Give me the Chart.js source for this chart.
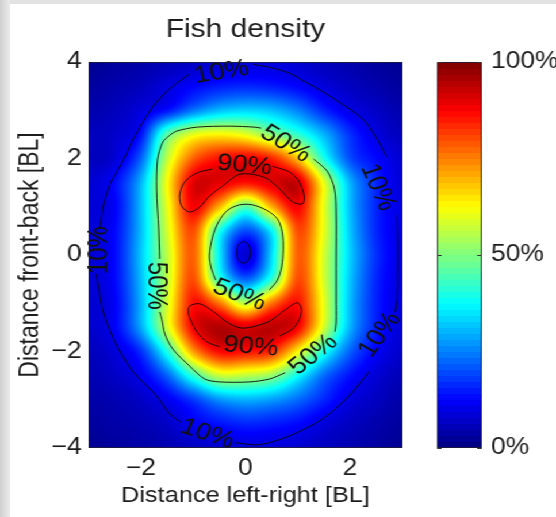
<!DOCTYPE html>
<html>
<head>
<meta charset="utf-8">
<script src="https://cdn.jsdelivr.net/npm/chart.js@4.4.1/dist/chart.umd.min.js"></script>
<style>
  html, body { margin: 0; padding: 0; background: #ffffff; }
  #outer { position: relative; width: 556px; height: 517px; overflow: hidden; background: #ffffff; }
  #edgeT { position: absolute; left: 0; top: 0; width: 556px; height: 4px; background: #e2e2e2; }
  #edgeL { position: absolute; left: 0; top: 0; width: 10px; height: 517px; background: linear-gradient(to right, #cfcfcf, #ececec); }
  #inner { position: absolute; left: 0; top: 0; width: 484px; height: 517px; transform: scaleX(1.15); transform-origin: 0 0; }
  #main { position: absolute; left: 0; top: 0; }
  #cbar { position: absolute; left: 370px; top: 0; }
</style>
</head>
<body>
<div id="outer">
  <div id="edgeT"></div>
  <div id="edgeL"></div>
  <div id="inner">
    <canvas id="main" width="484" height="517"></canvas>
    <canvas id="cbar" width="114" height="517"></canvas>
  </div>
</div>
<script>
// ---------------- data ----------------
const X_GRID = [-3, -2.5, -2, -1.5, -1, -0.5, 0, 0.5, 1, 1.5, 2, 2.5, 3];
const Y_GRID = [4, 3.5, 3, 2.5, 2, 1.5, 1, 0.5, 0, -0.5, -1, -1.5, -2, -2.5, -3, -3.5, -4];
// relative fish density (0..1), one row per Y_GRID value, one column per X_GRID value
const density = [
  [0.02, 0.03, 0.04, 0.055, 0.07, 0.085, 0.09, 0.093, 0.08, 0.06, 0.045, 0.03, 0.02],
  [0.03, 0.045, 0.06, 0.092, 0.125, 0.15, 0.16, 0.15, 0.125, 0.09, 0.065, 0.045, 0.03],
  [0.045, 0.06, 0.09, 0.14, 0.24, 0.31, 0.33, 0.31, 0.25, 0.16, 0.1, 0.07, 0.045],
  [0.06, 0.075, 0.14, 0.46, 0.6, 0.63, 0.6, 0.51, 0.42, 0.3, 0.17, 0.095, 0.06],
  [0.06, 0.085, 0.22, 0.56, 0.78, 0.86, 0.88, 0.84, 0.68, 0.4, 0.2, 0.13, 0.08],
  [0.08, 0.13, 0.3, 0.62, 0.9, 0.9, 0.86, 0.9, 0.92, 0.6, 0.3, 0.16, 0.085],
  [0.085, 0.12, 0.31, 0.6, 0.88, 0.7, 0.46, 0.7, 0.88, 0.6, 0.31, 0.16, 0.095],
  [0.085, 0.13, 0.31, 0.58, 0.8, 0.4, 0.2, 0.37, 0.8, 0.6, 0.32, 0.16, 0.1],
  [0.08, 0.13, 0.32, 0.56, 0.78, 0.36, 0.08, 0.34, 0.78, 0.58, 0.33, 0.17, 0.1],
  [0.08, 0.13, 0.31, 0.56, 0.8, 0.42, 0.22, 0.42, 0.8, 0.58, 0.32, 0.16, 0.095],
  [0.08, 0.12, 0.3, 0.58, 0.86, 0.76, 0.56, 0.76, 0.86, 0.6, 0.31, 0.155, 0.09],
  [0.075, 0.12, 0.29, 0.58, 0.88, 0.95, 0.91, 0.94, 0.88, 0.58, 0.3, 0.15, 0.085],
  [0.06, 0.09, 0.17, 0.4, 0.72, 0.87, 0.86, 0.83, 0.63, 0.4, 0.22, 0.12, 0.075],
  [0.05, 0.07, 0.11, 0.22, 0.42, 0.57, 0.56, 0.52, 0.38, 0.23, 0.14, 0.085, 0.055],
  [0.04, 0.05, 0.07, 0.11, 0.18, 0.27, 0.3, 0.28, 0.23, 0.16, 0.095, 0.065, 0.04],
  [0.03, 0.04, 0.05, 0.07, 0.115, 0.14, 0.16, 0.15, 0.13, 0.09, 0.065, 0.045, 0.03],
  [0.02, 0.03, 0.04, 0.05, 0.065, 0.08, 0.09, 0.09, 0.08, 0.065, 0.05, 0.035, 0.02]
];

const X_TICKS = [-2, 0, 2];
const Y_TICKS = [-4, -2, 0, 2, 4];
const COLORBAR_TICKS = [0, 50, 100];

// contour lines, [x, y] in axis units (segments broken at the labels)
const contour10 = [
  [[0.15, 3.95], [0.46, 3.89], [0.84, 3.77], [1.16, 3.58], [1.50, 3.37], [1.79, 3.17], [2.08, 2.96], [2.30, 2.75], [2.55, 2.34], [2.70, 2.03]],
  [[2.90, 0.83], [2.91, 0.33], [2.91, -0.29], [2.90, -0.91], [2.86, -1.18]],
  [[2.36, -2.42], [1.98, -2.92], [1.47, -3.40], [0.84, -3.75], [0.27, -3.93], [-0.21, -3.89]],
  [[-1.22, -3.48], [-1.45, -3.29], [-1.70, -2.92], [-2.15, -2.42], [-2.46, -1.88], [-2.72, -1.18], [-2.82, -0.60], [-2.86, -0.39]],
  [[-2.78, 0.58], [-2.72, 1.01], [-2.59, 1.47], [-2.46, 1.72], [-2.30, 2.05], [-2.15, 2.40], [-1.77, 3.08], [-1.39, 3.50], [-1.07, 3.75]],
  [[-0.04, 0.29], [0.06, 0.21], [0.09, 0.06], [0.06, -0.10], [-0.04, -0.17], [-0.14, -0.10], [-0.17, 0.06], [-0.14, 0.21], [-0.04, 0.29]]
];
const contour50 = [
  [[-1.64, -0.08], [-1.66, 0.54], [-1.70, 1.37], [-1.68, 1.99], [-1.58, 2.34], [-1.45, 2.48], [-1.31, 2.57], [-0.93, 2.65], [-0.30, 2.67], [0.17, 2.65], [0.30, 2.63]],
  [[1.30, 1.99], [1.56, 1.74], [1.70, 1.37], [1.73, 0.85], [1.73, -0.08], [1.73, -0.91], [1.73, -1.39], [1.71, -1.59]],
  [[0.76, -2.44], [0.46, -2.57], [0.08, -2.63], [-0.50, -2.63], [-0.78, -2.57], [-1.07, -2.30], [-1.39, -1.95], [-1.54, -1.64], [-1.60, -1.33], [-1.64, -1.18]],
  [[0.46, -0.72], [0.61, -0.52], [0.69, -0.25], [0.72, 0.12], [0.70, 0.48], [0.61, 0.75], [0.40, 0.93], [0.13, 1.04], [-0.11, 1.04], [-0.34, 0.93], [-0.51, 0.70], [-0.63, 0.37], [-0.69, -0.02], [-0.65, -0.29], [-0.57, -0.52]]
];
const contour90 = [
  [[0.51, 1.84], [0.84, 1.72], [1.03, 1.51], [1.12, 1.22], [1.09, 1.06], [0.90, 1.10], [0.65, 1.37], [0.40, 1.59], [0.08, 1.68], [-0.15, 1.66], [-0.44, 1.43], [-0.69, 1.22], [-0.88, 0.99], [-1.07, 0.89], [-1.22, 1.01], [-1.26, 1.22], [-1.20, 1.45], [-1.07, 1.61], [-0.88, 1.72], [-0.63, 1.78]],
  [[0.65, -1.68], [0.90, -1.53], [1.03, -1.33], [1.07, -1.12], [0.99, -0.99], [0.78, -1.12], [0.46, -1.37], [0.13, -1.49], [-0.11, -1.51], [-0.36, -1.39], [-0.63, -1.16], [-0.88, -1.01], [-1.07, -1.06], [-1.09, -1.22], [-1.03, -1.39], [-0.93, -1.59], [-0.74, -1.80], [-0.50, -1.90]]
];
// contour labels: text, x, y (axis units), reading angle in degrees
const contourLabelText = ['10%', '10%', '10%', '10%', '10%', '50%', '50%', '50%', '50%', '90%', '90%'];
const contourLabelX = [-0.46, 2.55, -2.82, 2.55, -0.72, 0.78, -1.68, -0.11, 1.28, -0.02, 0.10];
const contourLabelY = [3.81, 1.41, 0.10, -1.64, -3.69, 2.32, -0.64, -0.81, -2.05, 1.88, -1.88];
const contourLabelAngle = [-9, 66, -90, -53, 18, 31, 90, 20, -38, 5, 5];

// ---------------- rendering ----------------
const STRETCH = 1.15;
const FONT = '"Liberation Sans", Arial, Helvetica, sans-serif';
const TXT = '#1c1c1c';

function clamp01(v) { return v < 0 ? 0 : (v > 1 ? 1 : v); }
function jet(t) {
  t = clamp01(t);
  return [
    Math.round(255 * clamp01(1.5 - Math.abs(4 * t - 3))),
    Math.round(255 * clamp01(1.5 - Math.abs(4 * t - 2))),
    Math.round(255 * clamp01(1.5 - Math.abs(4 * t - 1)))
  ];
}
function cubic(p0, p1, p2, p3, t) {
  return p1 + 0.5 * t * (p2 - p0 + t * (2 * p0 - 5 * p1 + 4 * p2 - p3 + t * (3 * (p1 - p2) + p3 - p0)));
}
function cell(r, c) {
  r = Math.max(0, Math.min(density.length - 1, r));
  c = Math.max(0, Math.min(density[0].length - 1, c));
  return density[r][c];
}
// smooth shading between the grid values (like MATLAB "shading interp")
function shade(fx, fy) {
  const ix = Math.floor(fx), iy = Math.floor(fy);
  const tx = fx - ix, ty = fy - iy;
  const col = [];
  for (let m = -1; m <= 2; m++) {
    col.push(cubic(cell(iy + m, ix - 1), cell(iy + m, ix), cell(iy + m, ix + 1), cell(iy + m, ix + 2), tx));
  }
  return clamp01(cubic(col[0], col[1], col[2], col[3], ty));
}
function fmtNum(v) { return v < 0 ? '\u2212' + Math.abs(v) : String(v); }

const heatmapPlugin = {
  id: 'heatmap',
  beforeDatasetsDraw(chart) {
    const { ctx, chartArea: a, scales } = chart;
    const xs = scales.x, ys = scales.y;
    const L = Math.round(a.left), T = Math.round(a.top);
    const W = Math.round(a.right) - L, H = Math.round(a.bottom) - T;
    const img = ctx.createImageData(W, H);
    const dx = X_GRID[1] - X_GRID[0], dy = Y_GRID[0] - Y_GRID[1];
    for (let j = 0; j < H; j++) {
      const fy = (Y_GRID[0] - ys.getValueForPixel(T + j + 0.5)) / dy;
      for (let i = 0; i < W; i++) {
        const fx = (xs.getValueForPixel(L + i + 0.5) - X_GRID[0]) / dx;
        const c = jet(shade(fx, fy));
        const k = (j * W + i) * 4;
        img.data[k] = c[0]; img.data[k + 1] = c[1]; img.data[k + 2] = c[2]; img.data[k + 3] = 255;
      }
    }
    ctx.putImageData(img, L, T);
  },
  afterDatasetsDraw(chart) {
    const { ctx, chartArea: a, scales } = chart;
    const xs = scales.x, ys = scales.y;
    ctx.save();
    ctx.fillStyle = '#111111';
    ctx.font = '24px ' + FONT;
    ctx.textAlign = 'center';
    ctx.textBaseline = 'middle';
    for (let i = 0; i < contourLabelText.length; i++) {
      const px = xs.getPixelForValue(contourLabelX[i]);
      const py = ys.getPixelForValue(contourLabelY[i]);
      const deg = contourLabelAngle[i];
      let ang;
      if (Math.abs(deg) === 90) ang = deg * Math.PI / 180;
      else ang = Math.atan(Math.tan(deg * Math.PI / 180) * STRETCH);
      ctx.save();
      ctx.translate(px, py);
      ctx.rotate(ang);
      ctx.fillText(contourLabelText[i], 0, 1);
      ctx.restore();
    }
    // axes box
    ctx.strokeStyle = 'rgba(30,30,50,0.85)';
    ctx.lineWidth = 1;
    ctx.strokeRect(Math.round(a.left) + 0.5, Math.round(a.top) + 0.5, Math.round(a.right - a.left) - 1, Math.round(a.bottom - a.top) - 1);
    ctx.restore();
  },
  afterDraw(chart) {
    const { ctx, chartArea: a } = chart;
    ctx.save();
    ctx.fillStyle = TXT;
    ctx.font = '26px ' + FONT;
    ctx.textAlign = 'center';
    ctx.textBaseline = 'alphabetic';
    ctx.fillText('Fish density', (a.left + a.right) / 2, 37);
    ctx.restore();
  }
};

function lineSets(segments) {
  return segments.map(seg => ({
    data: seg.map(p => ({ x: p[0], y: p[1] })),
    showLine: true,
    borderColor: 'rgba(10,10,10,0.9)',
    borderWidth: 1,
    pointRadius: 0,
    pointHoverRadius: 0,
    tension: 0.3,
    fill: false
  }));
}

const datasets = [].concat(lineSets(contour10), lineSets(contour50), lineSets(contour90));

new Chart(document.getElementById('main'), {
  type: 'scatter',
  data: { datasets },
  options: {
    responsive: false,
    animation: false,
    devicePixelRatio: 1,
    events: [],
    layout: { padding: { left: 9, top: 62, right: 134, bottom: 2 } },
    plugins: { legend: { display: false }, tooltip: { enabled: false }, title: { display: false } },
    scales: {
      x: {
        type: 'linear', min: -3, max: 3,
        afterBuildTicks: s => { s.ticks = X_TICKS.map(v => ({ value: v })); },
        afterFit: s => { s.height = 67; },
        grid: { display: false, drawTicks: false },
        border: { display: false },
        ticks: { padding: 7, color: TXT, font: { family: FONT, size: 23 }, maxRotation: 0, autoSkip: false, callback: v => fmtNum(v) },
        title: { display: true, text: 'Distance left-right [BL]', color: TXT, font: { family: FONT, size: 22 }, padding: { top: 0, bottom: 6 } }
      },
      y: {
        type: 'linear', min: -4, max: 4,
        afterBuildTicks: s => { s.ticks = Y_TICKS.map(v => ({ value: v })); },
        afterFit: s => { s.width = 68; },
        grid: { display: false, drawTicks: false },
        border: { display: false },
        ticks: { padding: 6, color: TXT, font: { family: FONT, size: 23 }, autoSkip: false, callback: v => fmtNum(v) },
        title: { display: true, text: 'Distance front-back [BL]', color: TXT, font: { family: FONT, size: 23 }, padding: { top: 4, bottom: 0 } }
      }
    }
  },
  plugins: [heatmapPlugin]
});

const colorbarPlugin = {
  id: 'colorbar',
  afterDraw(chart) {
    const { ctx, chartArea: a, scales } = chart;
    const ys = scales.y;
    const n = 64;
    const lo = COLORBAR_TICKS[0], hi = COLORBAR_TICKS[COLORBAR_TICKS.length - 1];
    ctx.save();
    for (let i = 0; i < n; i++) {
      const y0 = ys.getPixelForValue(lo + (hi - lo) * (i + 1) / n);
      const y1 = ys.getPixelForValue(lo + (hi - lo) * i / n);
      const c = jet((i + 0.5) / n);
      ctx.fillStyle = 'rgb(' + c[0] + ',' + c[1] + ',' + c[2] + ')';
      ctx.fillRect(a.left, Math.floor(y0), a.right - a.left, Math.ceil(y1) - Math.floor(y0));
    }
    ctx.strokeStyle = 'rgba(30,30,50,0.85)';
    ctx.lineWidth = 1;
    ctx.strokeRect(Math.round(a.left) + 0.5, Math.round(a.top) + 0.5, Math.round(a.right - a.left) - 1, Math.round(a.bottom - a.top) - 1);
    ctx.strokeStyle = '#333';
    for (const t of COLORBAR_TICKS) {
      const y = Math.round(ys.getPixelForValue(t)) + 0.5;
      ctx.beginPath();
      ctx.moveTo(a.left, y); ctx.lineTo(a.left + 4, y);
      ctx.moveTo(a.right, y); ctx.lineTo(a.right - 4, y);
      ctx.stroke();
    }
    ctx.restore();
  }
};

new Chart(document.getElementById('cbar'), {
  type: 'scatter',
  data: { datasets: [] },
  options: {
    responsive: false,
    animation: false,
    devicePixelRatio: 1,
    events: [],
    layout: { padding: { left: 10, top: 62, right: 0, bottom: 69 } },
    plugins: { legend: { display: false }, tooltip: { enabled: false } },
    scales: {
      x: { type: 'linear', display: false, min: 0, max: 1 },
      y: {
        type: 'linear', position: 'right', min: COLORBAR_TICKS[0], max: COLORBAR_TICKS[COLORBAR_TICKS.length - 1],
        afterBuildTicks: s => { s.ticks = COLORBAR_TICKS.map(v => ({ value: v })); },
        afterFit: s => { s.width = 65; },
        grid: { display: false, drawTicks: false },
        border: { display: false },
        ticks: { padding: 8, color: TXT, font: { family: FONT, size: 23 }, autoSkip: false, callback: v => v + '%' }
      }
    }
  },
  plugins: [colorbarPlugin]
});
</script>
</body>
</html>
